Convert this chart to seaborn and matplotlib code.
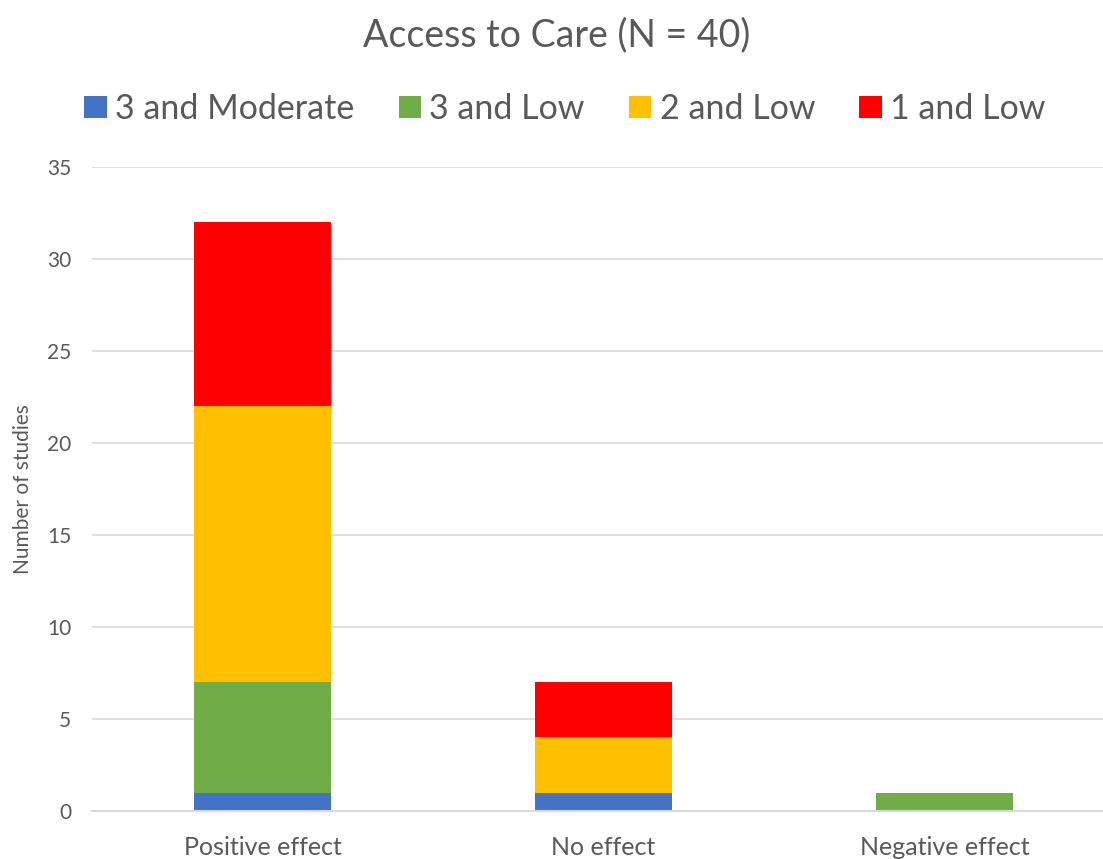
import numpy as np
import pandas as pd
import matplotlib
matplotlib.use("Agg")
import matplotlib.pyplot as plt
import seaborn as sns

categories = ["Positive effect", "No effect", "Negative effect"]
series_names = ["3 and Moderate", "3 and Low", "2 and Low", "1 and Low"]
moderate_3 = [1, 1, 0]
low_3 = [6, 0, 1]
low_2 = [15, 3, 0]
low_1 = [10, 3, 0]
series_values = [moderate_3, low_3, low_2, low_1]
colors = ["#4472C4", "#70AD47", "#FFC000", "#FF0000"]
y_ticks = [0, 5, 10, 15, 20, 25, 30, 35]

sns.set_theme(style="white")
plt.rcParams["font.family"] = ["Lato", "DejaVu Sans"]
text_color = "#595959"

fig = plt.figure(figsize=(11.03, 8.59), dpi=100)
ax = fig.add_axes([92 / 1103, 1 - 811 / 859, 1023 / 1103, (811 - 167) / 859])

bottom = np.zeros(len(categories))
for name, vals, col in zip(series_names, series_values, colors):
    df = pd.DataFrame({"category": categories, "count": vals})
    sns.barplot(data=df, x="category", y="count", order=categories,
                color=col, width=0.4, bottom=bottom, label=name,
                saturation=1, ax=ax, linewidth=0)
    bottom = bottom + np.array(vals)

handles, labels = ax.get_legend_handles_labels()
if ax.get_legend() is not None:
    ax.get_legend().remove()

ax.set_xlim(-0.5, 2.5)
ax.set_ylim(0, 35)
ax.set_yticks(y_ticks)
ax.yaxis.grid(True, color="#D9D9D9", linewidth=1.2)
ax.set_axisbelow(True)
for s in ["top", "right", "left"]:
    ax.spines[s].set_visible(False)
ax.spines["bottom"].set_color("#D9D9D9")
ax.spines["bottom"].set_linewidth(1.5)
ax.tick_params(axis="y", length=0, labelsize=15, colors=text_color, pad=15)
ax.tick_params(axis="x", length=0, labelsize=18, colors=text_color, pad=18)
ax.set_xlabel("")
ax.set_ylabel("Number of studies", fontsize=15, color=text_color, labelpad=10)

fig.text(557 / 1103, 1 - 35 / 859, "Access to Care (N = 40)", ha="center", va="center",
         fontsize=27, color=text_color)

seen = {}
for h, l in zip(handles, labels):
    seen.setdefault(l, h)
leg = fig.legend([seen[n] for n in series_names], series_names, loc="center",
                 bbox_to_anchor=(565 / 1103, 1 - 109 / 859), ncol=4, frameon=False,
                 fontsize=24.5, handlelength=0.65, handleheight=0.65, handletextpad=0.25,
                 columnspacing=1.3)
for t in leg.get_texts():
    t.set_color(text_color)

fig.savefig("out.png", dpi=100)
